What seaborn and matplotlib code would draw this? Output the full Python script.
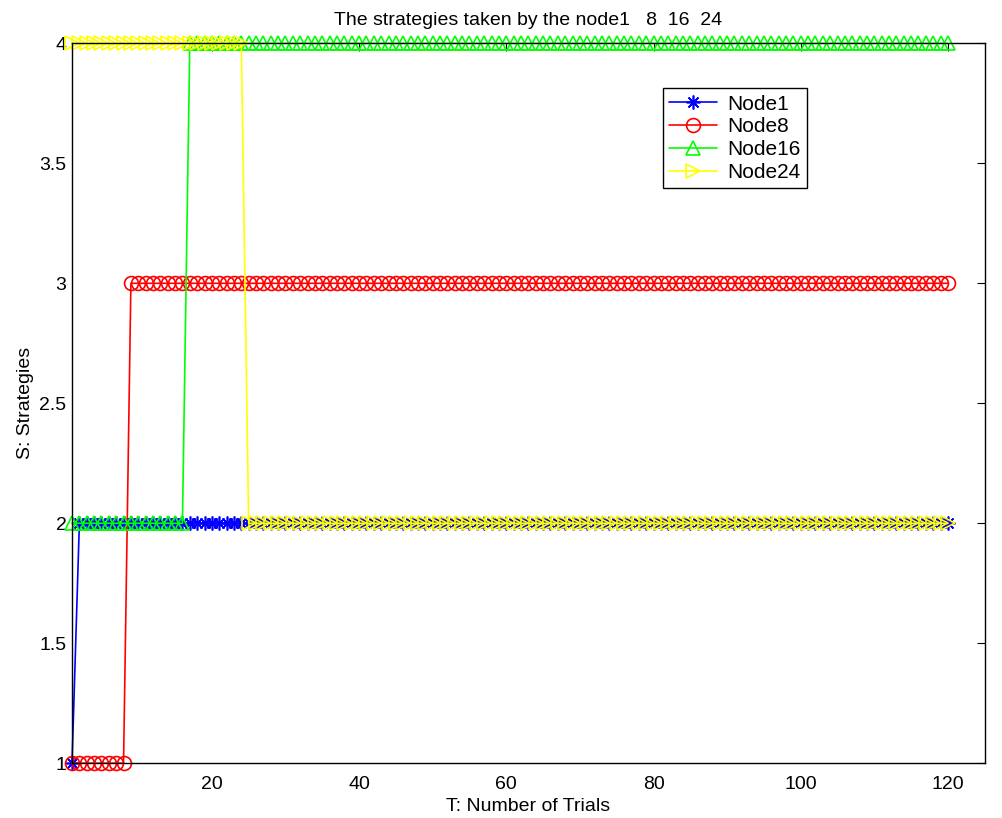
import matplotlib
matplotlib.use("Agg")
import matplotlib.pyplot as plt
import seaborn as sns

# trial index 1..120
trials = list(range(1, 121))

# strategy taken by each node at every trial
node1 = [1] * 1 + [2] * 119
node8 = [1] * 8 + [3] * 112
node16 = [2] * 16 + [4] * 104
node24 = [4] * 24 + [2] * 96

series = [
    ("Node1", node1, "#0000ff", (8, 2, 0)),
    ("Node8", node8, "#ff0000", "o"),
    ("Node16", node16, "#00ff00", "^"),
    ("Node24", node24, "#ffff00", ">"),
]

sns.set_style("white")
plt.rcParams["font.family"] = ["Liberation Sans", "DejaVu Sans"]
plt.rcParams["text.color"] = "black"
plt.rcParams["axes.labelcolor"] = "black"

fig = plt.figure(figsize=(10.03, 8.18), dpi=100)
ax = fig.add_axes([0.0718, 0.067, 0.910, 0.880])

for name, vals, col, mk in series:
    sns.lineplot(x=trials, y=vals, ax=ax, color=col, marker=mk, markersize=10,
                 markerfacecolor="none", markeredgecolor=col, markeredgewidth=1.2,
                 linewidth=1.2, label=name, clip_on=False)

ax.set_xlim(1, 125)
ax.set_ylim(1, 4)
ax.set_xticks([20, 40, 60, 80, 100, 120])
ax.set_yticks([1, 1.5, 2, 2.5, 3, 3.5, 4])
ax.set_yticklabels(["1", "1.5", "2", "2.5", "3", "3.5", "4"])
ax.tick_params(direction="in", length=6, width=0.8, top=True, right=True,
               labelsize=14, colors="black")
ax.tick_params(axis="x", pad=9)
ax.tick_params(axis="y", pad=4)
for sp in ax.spines.values():
    sp.set_color("black")
    sp.set_linewidth(1.0)

ax.set_xlabel("T: Number of Trials", fontsize=14, labelpad=4)
ax.set_ylabel("S: Strategies", fontsize=14, labelpad=4)
ax.set_title("The strategies taken by the node1   8  16  24", fontsize=14, pad=13)

leg = ax.legend(loc="upper left", bbox_to_anchor=(0.647, 0.9375), fontsize=15,
                frameon=True, fancybox=False, edgecolor="black", framealpha=1,
                borderpad=0.3, labelspacing=0.18, handlelength=2.3,
                handletextpad=0.5, borderaxespad=0)
leg.get_frame().set_linewidth(1.0)

fig.savefig("out.png", dpi=100)
